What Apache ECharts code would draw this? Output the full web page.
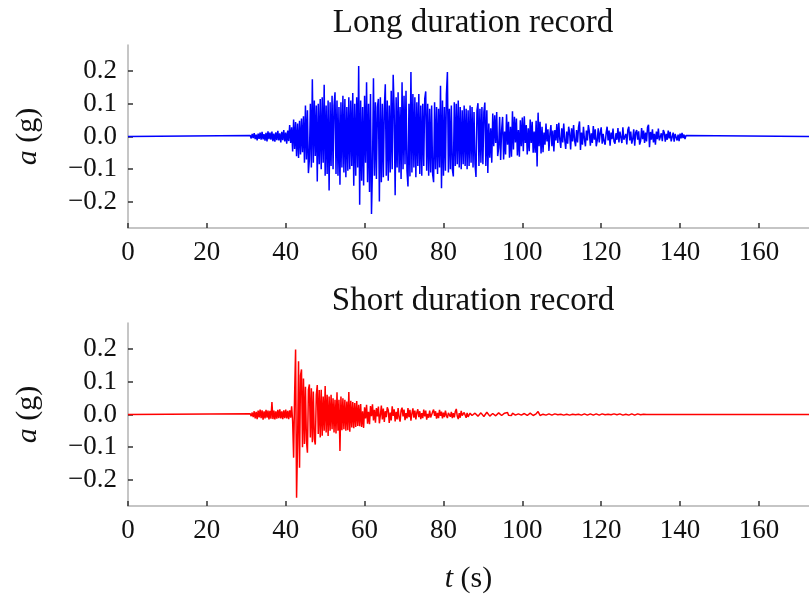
<!DOCTYPE html>
<html>
<head>
<meta charset="utf-8">
<script src="https://cdn.jsdelivr.net/npm/echarts@6/dist/echarts.min.js"></script>
<style>
html,body{margin:0;padding:0;background:#fff;}
#chart{width:809px;height:597px;}
</style>
</head>
<body>
<div id="chart"></div>
<script>
// ---- Data ----
const panelTitles = ["Long duration record", "Short duration record"];
const xTicks = [0, 20, 40, 60, 80, 100, 120, 140, 160];
const yTicks = [-0.2, -0.1, 0.0, 0.1, 0.2];
const recordEnd = 172.7;          // s, end of both records
const sampleStep = 0.25;          // s, spacing of the read-off samples

// Long duration record: zeros before 31 s, samples from 31 s, in milli-g
const longStart = 31;
const longAccelMilliG = [
  3,-6,8,-5, 10,-8,6,-12, 9,-7,12,-10, 14,-9,7,-13,          // 31-34
  11,-15,16,-8, 12,-10,15,-14, 9,-16,13,-11, 17,-12,10,-18,   // 35-38
  14,-11,20,-15, 12,-22,18,-14, 35,-20,28,-46, 52,-38,44,-60, // 39-42
  40,-66,48,-55, 55,-48,62,-80, 95,-70,80,-112, -70,100,-95,175, // 43-46
  -80,110,-60,95, -138,100,-85,115, -100,120,-80,158, -120,95,-115,110, // 47-50
  -165,105,-90,125, -100,95,135,-115, 110,-120,90,-148, 105,-95,125,-110, // 51-54
  115,-125,90,-105, 120,-100,110,-90, 133,-151,100,-120, 120,-95,216,-209, // 55-58
  110,-135,90,-150, 125,-80,166,-140, 100,-170,130,-237, -95,178,-120,105, // 59-62
  -130,90,115,-199, 120,-140,100,-125, 85,160,-120,110, -135,95,-110,140, // 63-66
  -100,189,80,-180, 120,-95,135,-110, 90,-130,166,-100, 125,-85,140,-105, // 67-70
  -153,100,-122,197, -110,130,-95,120, -125,105,-90,130, -115,95,-120,100, // 71-74
  -90,115,138,-105, 100,-120,85,-110, 95,-115,-140,105, -100,90,-115,85, // 75-78
  -95,155,-158,110, -120,90,-105,130, 197,-110,85,-100, 95,-100,-122,105, // 79-82
  -90,100,-85,110, -95,90,-100,80, -85,95,-90,85, -100,80,-90,95,   // 83-86
  -80,90,-95,75, -85,-124,80,102, -90,85,-80,90, -85,75,104,-90,    // 87-90
  80,-112,40,-65, 25,-80,70,-30, 65,-20,75,-60, -35,60,-72,20,      // 91-94
  60,-70,15,-55, 68,-25,45,-65, 30,-62,77,-40, 60,-18,55,-58,       // 95-98
  20,-62,50,-30, 58,-45,62,-20, 35,-55,25,-45, 52,-20,45,-50,       // 99-102
  15,-50,48,-92, 73,-30,45,-52, 30,-48,12,-25, 40,-15,22,-44,       // 103-106
  8,35,-30,18, -46,20,-12,38, -20,42,-8,-35, 25,-18,40,-10,         // 107-110
  -38,15,-22,30, 10,-40,25,-15, 35,-12,-30,20, -18,28,46,-41,       // 111-114
  12,-25,30,-8, -30,18,-12,35, 15,-28,10,-20, 32,-10,22,-30,        // 115-118
  -12,25,-18,12, 28,-22,8,-15, -25,10,30,-12, 18,-28,12,-8,         // 119-122
  24,-15,-22,10, -10,26,-18,15, 12,-20,28,-10, -16,8,-24,20,        // 123-126
  30,-12,15,-22, -8,22,-28,12, 20,-10,16,-25, -14,26,-8,18,         // 127-130
  -20,12,-15,28, 36,-33,14,-10, 22,-18,8,-25, 15,-8,24,-12,         // 131-134
  -18,10,-14,20, 12,-16,8,-10, 18,-6,14,-15, -10,12,-16,8,          // 135-138
  10,-12,6,-14, 9,-6,11,-5, 6,-8,3,-2                               // 139-141
];

// Short duration record: zeros before 31 s, samples from 31 s, in milli-g
const shortStart = 31;
const shortAccelMilliG = [
  2,-5,6,-8, 10,-12,8,-14, 12,-9,15,-11, 13,-16,10,-12,        // 31-34
  14,-10,12,-15, 11,-13,38,-14, 12,-15,10,-13, 14,-11,16,-12,   // 35-38
  10,-14,13,-11, 15,-12,11,-14, 13,-10,25,-20, -132,60,199,-255, // 39-42
  -90,163,-163,120, 138,-100,110,-90, 85,-80,-117,75, 92,-70,80,-85, // 43-46
  70,-75,-92,60, 90,-60,75,-70, 76,-65,55,-50, 87,-55,60,-66,   // 47-50
  55,-50,60,-45, 50,-55,45,-58, 68,-50,45,-112, 55,-48,50,-45,  // 51-54
  45,-50,40,-48, 69,-53,42,-40, 38,-42,35,-38, 41,-35,30,-36,   // 55-58
  32,-38,10,-41, 22,-12,30,-28, 8,-30,26,-5, 31,-18,14,-25,     // 59-62
  20,-6,24,-27, -2,27,-15,18, -23,10,-8,22, 14,-26,6,-18,       // 63-66
  25,-4,16,-21, 8,-15,20,-10, -22,12,21,-6, 15,-17,4,-12,       // 67-70
  20,-8,14,-19, 3,19,-10,12, -15,6,16,-8, 10,-14,4,-11,         // 71-74
  15,-6,12,-16, 2,-10,12,-9, -14,8,15,-4, 10,-13,5,-11,         // 75-78
  14,-4,9,-12, 6,-8,12,-3, -11,5,10,-7, 8,-11,4,-9,             // 79-82
  9,17,-5,-14, 4,-10,11,-3, -8,6,9,-10, 5,-7,-9,4,              // 83-86
  8,-3,-7,2, 4,8,3,-5, -8,-3,5,9, 4,-6,-9,-2,                   // 87-90
  7,10,3,-5, -8,-4,3,6, 2,-4,-7,-3, 5,8,4,-3,                   // 91-94
  -6,-2,4,7, 10,6,-2,-6, -8,-3,4,6, 3,-2,-5,-3,                 // 95-98
  2,5,3,-2, -5,-2,3,5, 2,-3,-5,-1, 4,6,2,-3,                    // 99-102
  -5,-2,2,4, 9,5,-3,-6, -4,1,4,3, -2,-4,-2,2,                   // 103-106
  4,2,-2,-4, -2,2,5,3, -1,-4,-3,1, 3,2,-2,-4,                   // 107-110
  -3,1,4,2, -2,-4,-2,1, 3,2,-1,-3, -2,1,6,3,                    // 111-114
  -2,-4,-1,2, 3,1,-2,-3, -1,2,3,1, -2,-3,-1,2,                  // 115-118
  3,1,-2,-2, 0,2,4,2, -1,-3,-2,1, 2,1,-1,-2,                    // 119-122
  0,2,3,1, -1,-2,0,2, 8,3,-2,-3, -1,1,2,0,                      // 123-126
  -2,-1,1,2, 1,-1,-2,0, 1,2,0,-1, -1,0,1,1,                     // 127-130
  0,-1,0,1, 1,0,-1,0, 0                                         // 131-133
];

// ---- Build series data (time in s, acceleration in g) ----
function buildRecord(start, valuesMilliG) {
  const pts = [[0, 0]];
  valuesMilliG.forEach((v, i) => pts.push([start + i * sampleStep, v / 1000]));
  pts.push([recordEnd, 0]);
  return pts;
}
const longData = buildRecord(longStart, longAccelMilliG);
const shortData = buildRecord(shortStart, shortAccelMilliG);

const FONT = "'Liberation Serif', 'DejaVu Serif', serif";
const TXT = '#111';

function fmtY(v) {
  const s = Math.abs(v).toFixed(1);
  return (v < -1e-9 ? '\u2212' : '') + s;
}

function xAxisFor(gridIndex, withName) {
  return {
    type: 'value', gridIndex, min: 0, max: recordEnd,
    axisLine: { show: true, onZero: false, lineStyle: { color: '#b3b3b3', width: 1.5 } },
    axisTick: { show: true, inside: true, length: 5, customValues: xTicks, lineStyle: { color: '#333', width: 1.5 } },
    axisLabel: { customValues: xTicks, fontFamily: FONT, fontSize: 27, color: TXT, margin: 11 },
    splitLine: { show: false },
    name: withName ? '{i|t} (s)' : '',
    nameLocation: 'middle', nameGap: 58,
    nameTextStyle: { fontFamily: FONT, fontSize: 30, color: TXT, rich: { i: { fontFamily: FONT, fontSize: 30, fontStyle: 'italic', color: TXT } } }
  };
}
function yAxisFor(gridIndex) {
  return {
    type: 'value', gridIndex, min: -0.28, max: 0.28,
    axisLine: { show: true, onZero: false, lineStyle: { color: '#b3b3b3', width: 1.5 } },
    axisTick: { show: true, inside: true, length: 5, customValues: yTicks, lineStyle: { color: '#333', width: 1.5 } },
    axisLabel: { customValues: yTicks, formatter: fmtY, fontFamily: FONT, fontSize: 27, color: TXT, margin: 11 },
    splitLine: { show: false },
    name: '{i|a} (g)',
    nameLocation: 'middle', nameGap: 85, nameRotate: 90,
    nameTextStyle: { fontFamily: FONT, fontSize: 30, color: TXT, rich: { i: { fontFamily: FONT, fontSize: 30, fontStyle: 'italic', color: TXT } } }
  };
}

const chart = echarts.init(document.getElementById('chart'), null, { renderer: 'canvas' });
chart.setOption({
  animation: false,
  backgroundColor: '#fff',
  title: [
    { text: panelTitles[0], left: 468, top: 2, textAlign: 'center', textStyle: { fontFamily: FONT, fontSize: 33, fontWeight: 'normal', color: TXT } },
    { text: panelTitles[1], left: 468, top: 280, textAlign: 'center', textStyle: { fontFamily: FONT, fontSize: 33, fontWeight: 'normal', color: TXT } }
  ],
  grid: [
    { left: 128, right: 0, top: 45, height: 183 },
    { left: 128, right: 0, top: 323, height: 183 }
  ],
  xAxis: [xAxisFor(0, false), xAxisFor(1, true)],
  yAxis: [yAxisFor(0), yAxisFor(1)],
  series: [
    { type: 'line', xAxisIndex: 0, yAxisIndex: 0, data: longData, showSymbol: false, symbol: 'none',
      lineStyle: { color: '#0000ff', width: 1.5 }, itemStyle: { color: '#0000ff' } },
    { type: 'line', xAxisIndex: 1, yAxisIndex: 1, data: shortData, showSymbol: false, symbol: 'none',
      lineStyle: { color: '#ff0000', width: 1.5 }, itemStyle: { color: '#ff0000' } }
  ]
});
</script>
</body>
</html>
